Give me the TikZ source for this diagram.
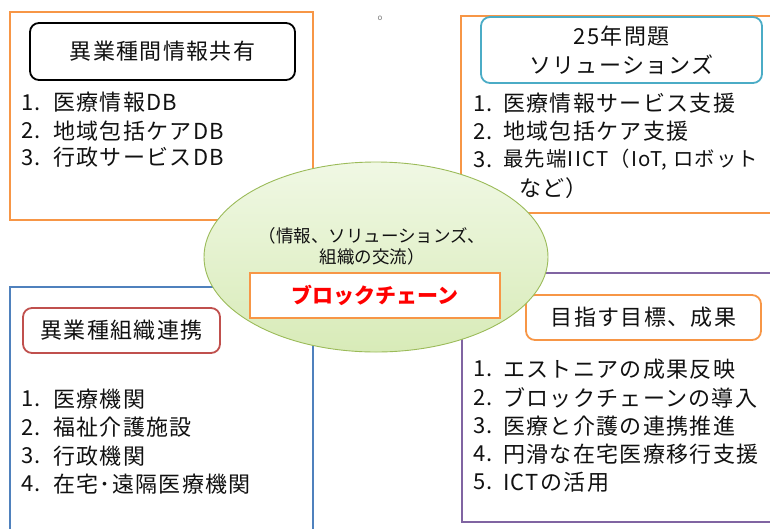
\documentclass[tikz,border=0pt]{standalone}
\usepackage{graphicx}
\usepackage{fontspec}
\setmainfont{Noto Sans CJK JP}
\newfontfamily\jpsp[LetterSpace=6]{Noto Sans CJK JP}
\usetikzlibrary{shapes.geometric}
\definecolor{orng}{HTML}{F79646}
\definecolor{teal}{HTML}{4BACC6}
\definecolor{blu}{HTML}{4F81BD}
\definecolor{redb}{HTML}{C0504D}
\definecolor{purp}{HTML}{8064A2}
\definecolor{grnb}{HTML}{9BBB59}
\definecolor{txt}{HTML}{111111}
\begin{document}
\begin{tikzpicture}[x=1pt,y=-1pt,
  frame/.style={draw, line width=2.2pt, inner sep=0pt},
  titlebox/.style={draw, rounded corners=9pt, line width=1.8pt, fill=white, inner sep=0pt, align=center, text=txt, font=\jpsp\fontsize{22}{29}\selectfont},
  num/.style={anchor=west, inner sep=0pt, text=txt, font=\jpsp\fontsize{22}{25}\selectfont},
  itm/.style={anchor=west, inner sep=0pt, text=txt, font=\jpsp\fontsize{22}{25}\selectfont}]
\useasboundingbox (0,0) rectangle (770,528);
\clip (0,0) rectangle (770,528);
% outer frames
\node[frame, draw=orng, minimum width=303pt, minimum height=208pt] (ftl) at (161.5,116) {};
\node[frame, draw=orng, minimum width=329pt, minimum height=197pt] (ftr) at (625.5,114.5) {};
\node[frame, draw=blu, minimum width=303pt, minimum height=253pt] (fbl) at (161.5,413.5) {};
\node[frame, draw=purp, minimum width=328pt, minimum height=249pt] (fbr) at (626,397.5) {};
% title boxes
\node[titlebox, draw=black, minimum width=265pt, minimum height=57pt] (ttl) at (162.5,51.5) {異業種間情報共有};
\node[titlebox, draw=teal, minimum width=281pt, minimum height=66pt] (ttr) at (621.5,50) {25年問題\\ソリューションズ};
\node[titlebox, draw=redb, minimum width=197pt, minimum height=45pt] (tbl) at (121.5,330.5) {異業種組織連携};
\node[titlebox, draw=orng, minimum width=235pt, minimum height=45pt] (tbr) at (643.5,317.5) {目指す目標、成果};
% lists top-left
\node[num] (n11) at (21,102.5) {1.};
\node[itm] (i11) at (53,102.5) {医療情報DB};
\node[num] (n12) at (21,131) {2.};
\node[itm] (i12) at (53,131) {地域包括ケアDB};
\node[num] (n13) at (21,157.5) {3.};
\node[itm] (i13) at (53,157.5) {行政サービスDB};
% lists top-right
\node[num] (n21) at (473,103.5) {1.};
\node[itm] (i21) at (503,103.5) {医療情報サービス支援};
\node[num] (n22) at (473,131.5) {2.};
\node[itm] (i22) at (503,131.5) {地域包括ケア支援};
\node[num] (n23) at (473,160) {3.};
\node[itm] (i23) at (503,160) {\resizebox{255pt}{!}{最先端IICT（IoT, ロボット}};
\node[itm] (i24) at (519,188.5) {など）};
% lists bottom-left
\node[num] (n31) at (21,399) {1.};
\node[itm] (i31) at (53,399) {医療機関};
\node[num] (n32) at (21,427.5) {2.};
\node[itm] (i32) at (53,427.5) {福祉介護施設};
\node[num] (n33) at (21,456) {3.};
\node[itm] (i33) at (53,456) {行政機関};
\node[num] (n34) at (21,484) {4.};
\node[itm] (i34) at (53,484) {在宅･遠隔医療機関};
% lists bottom-right
\node[num] (n41) at (473,369) {1.};
\node[itm] (i41) at (503,369) {エストニアの成果反映};
\node[num] (n42) at (473,397.5) {2.};
\node[itm] (i42) at (503,397.5) {ブロックチェーンの導入};
\node[num] (n43) at (473,426) {3.};
\node[itm] (i43) at (503,426) {医療と介護の連携推進};
\node[num] (n44) at (473,454) {4.};
\node[itm] (i44) at (503,454) {円滑な在宅医療移行支援};
\node[num] (n45) at (473,482) {5.};
\node[itm] (i45) at (503,482) {ICTの活用};
% central ellipse
\node[ellipse, draw=grnb, line width=0.9pt, top color={rgb,255:red,240;green,248;blue,228}, bottom color={rgb,255:red,216;green,235;blue,184}, minimum width=344pt, minimum height=190pt, inner sep=0pt] (hub) at (376,257) {};
\node[align=center, inner sep=0pt, text=txt, font=\fontsize{17.5}{21}\selectfont] (hubtxt) at (372,246.5) {（情報、ソリューションズ、\\組織の交流）};
\node[draw=orng, line width=2pt, fill=white, minimum width=250pt, minimum height=45pt, inner sep=0pt, text=red, font=\fontsize{21}{24}\selectfont\bfseries] (bc) at (375,295.5) {ブロックチェーン};
% small mark
\node[text=gray, font=\fontsize{8}{9}\selectfont, inner sep=0pt] (mk) at (380,18) {o};
\end{tikzpicture}
\end{document}
